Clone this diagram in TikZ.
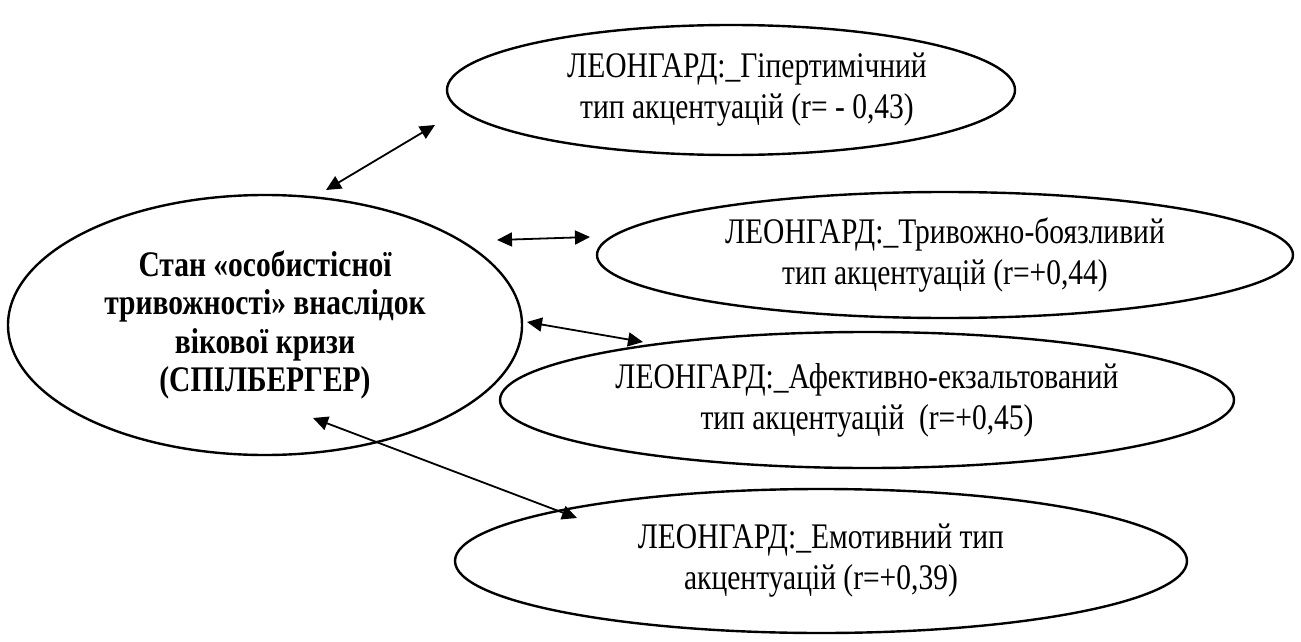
\documentclass[tikz,border=0pt]{standalone}
\usepackage{fontspec}
\setmainfont{Liberation Serif}[Ligatures=TeX]
\newfontfamily\ovalfont{Liberation Serif}[FakeStretch=0.82]
\usepackage{tikz}
\usetikzlibrary{arrows.meta,shapes.geometric}

\begin{document}
\begin{tikzpicture}[
  x=0.5pt,y=-0.5pt,
  oval/.style={draw,ellipse,line width=1.2pt,inner sep=0pt,align=center,
    font=\ovalfont\fontsize{18}{20.5}\selectfont},
  link/.style={{Triangle[length=7.5pt,width=7pt]}-{Triangle[length=7.5pt,width=7pt]},line width=0.9pt}
]
\useasboundingbox (0,0) rectangle (1301,642);
% central state
\node[oval,minimum width=257pt,minimum height=130pt,font=\ovalfont\fontsize{18}{19.3}\selectfont\bfseries] (state) at (265,325)
  {Стан «особистісної\\тривожності» внаслідок\\вікової кризи\\(СПІЛБЕРГЕР)};
% accentuation types
\node[oval,minimum width=284pt,minimum height=65pt] (hyper) at (731,90)
  {\hspace*{16pt}ЛЕОНГАРД:\_Гіпертимічний\\\hspace*{16pt}тип акцентуацій (r= - 0,43)};
\node[oval,minimum width=348pt,minimum height=63pt] (anxious) at (945,255)
  {ЛЕОНГАРД:\_Тривожно-боязливий\\тип акцентуацій (r=+0,44)};
\node[oval,minimum width=367pt,minimum height=68pt] (affect) at (867,400)
  {ЛЕОНГАРД:\_Афективно-екзальтований\\тип акцентуацій \ (r=+0,45)};
\node[oval,minimum width=366pt,minimum height=72pt] (emot) at (821,561)
  {ЛЕОНГАРД:\_Емотивний тип\\акцентуацій (r=+0,39)};
% arrow ends
\coordinate (s1) at (326,190); \coordinate (h1) at (435,125);
\coordinate (s2) at (497,240); \coordinate (n1) at (590,237);
\coordinate (s3) at (527,322); \coordinate (f1) at (643,342);
\coordinate (s4) at (313,418); \coordinate (e1) at (577,518);
\draw[link] (s1) -- (h1);
\draw[link] (s2) -- (n1);
\draw[link] (s3) -- (f1);
\draw[link] (s4) -- (e1);
\end{tikzpicture}
\end{document}
